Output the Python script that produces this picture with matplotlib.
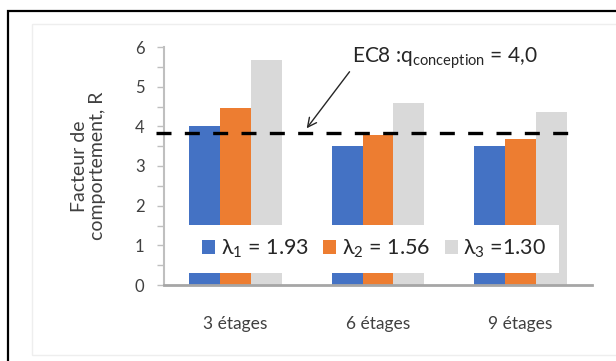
import numpy as np
import matplotlib
matplotlib.use('Agg')
import matplotlib.pyplot as plt
import matplotlib.transforms as mtransforms
from matplotlib.patches import Patch, Rectangle

plt.rcParams['font.family'] = ['Lato', 'DejaVu Sans']
plt.rcParams['mathtext.fontset'] = 'custom'
plt.rcParams['mathtext.rm'] = 'Lato'

categories = ['3 étages', '6 étages', '9 étages']
lambda1 = [4.0, 3.5, 3.5]
lambda2 = [4.47, 3.78, 3.68]
lambda3 = [5.67, 4.58, 4.37]
series_labels = ['λ$_1$ = 1.93', 'λ$_2$ = 1.56', 'λ$_3$ =1.30']
colors = ['#4472C4', '#ED7D31', '#D9D9D9']
q_line = 3.83

fig = plt.figure(figsize=(6.16, 3.61), dpi=100)
ax = fig.add_axes([164/616, 1 - 285/361, 428/616, 238/361])

x = np.arange(len(categories))
w = 0.217
for i, vals in enumerate([lambda1, lambda2, lambda3]):
    ax.bar(x + (i - 1) * w, vals, width=w, color=colors[i], zorder=2)

ax.set_xlim(-0.5, 2.5)
ax.set_ylim(0, 6)
ax.set_yticks(range(7))
ax.set_yticks(np.arange(0, 6.01, 0.5), minor=True)
ax.set_xticks(x)
ax.set_xticklabels(categories)

for s in ['top', 'right']:
    ax.spines[s].set_visible(False)
ax.spines['left'].set_color('#bfbfbf')
ax.spines['left'].set_linewidth(1.5)
ax.spines['bottom'].set_color('#a6a6a6')
ax.spines['bottom'].set_linewidth(2)
ax.tick_params(axis='y', which='both', length=5, width=1, color='#bfbfbf',
               labelsize=12, labelcolor='#404040', pad=9)
ax.tick_params(axis='x', length=0, labelsize=12.5, labelcolor='#404040', pad=22)

ax.set_ylabel('Facteur de\ncomportement, R', fontsize=14, color='#404040',
              linespacing=1.05)
ax.yaxis.set_label_coords(-0.136, 0.5)

# dashed design line
ax.plot([-0.556, 2.40], [q_line, q_line], color='black', lw=2.4,
        dashes=(4.5, 4), clip_on=False, zorder=3)

ax.annotate('EC8 :q$_{\\mathrm{conception}}$ = 4,0', xy=(0.50, 3.95),
            xytext=(0.82, 5.62), fontsize=15, color='#262626',
            ha='left', va='baseline',
            arrowprops=dict(arrowstyle='->', color='#262626', lw=1,
                            mutation_scale=16, shrinkA=0, shrinkB=0,
                            relpos=(0, 0.1)))

# white legend backdrop covering the bars
trans = mtransforms.blended_transform_factory(ax.transAxes, ax.transData)
ax.add_patch(Rectangle((0.058, 0.30), 0.865, 1.21, transform=trans,
                       facecolor='white', edgecolor='none', zorder=4))

handles = [Patch(facecolor=c, edgecolor='none') for c in colors]
leg = ax.legend(handles, series_labels, loc='center', bbox_to_anchor=(0.491, 0.153),
                ncol=3, fontsize=15.5, frameon=False,
                handlelength=0.6, handleheight=0.6, handletextpad=0.25,
                columnspacing=0.7, borderpad=0, borderaxespad=0)
leg.set_zorder(5)
for t in leg.get_texts():
    t.set_color('#262626')

# outer frame
fig.patches.append(Rectangle((32/616, 6/361), 1.2, 331/361, transform=fig.transFigure,
                             fill=False, edgecolor='#eeeeee', lw=1))
fig.patches.append(Rectangle((8/616, -0.2), 1.2, 1.2 - 11/361, transform=fig.transFigure,
                             fill=False, edgecolor='black', lw=1.6))

fig.savefig('out.png', dpi=100)
